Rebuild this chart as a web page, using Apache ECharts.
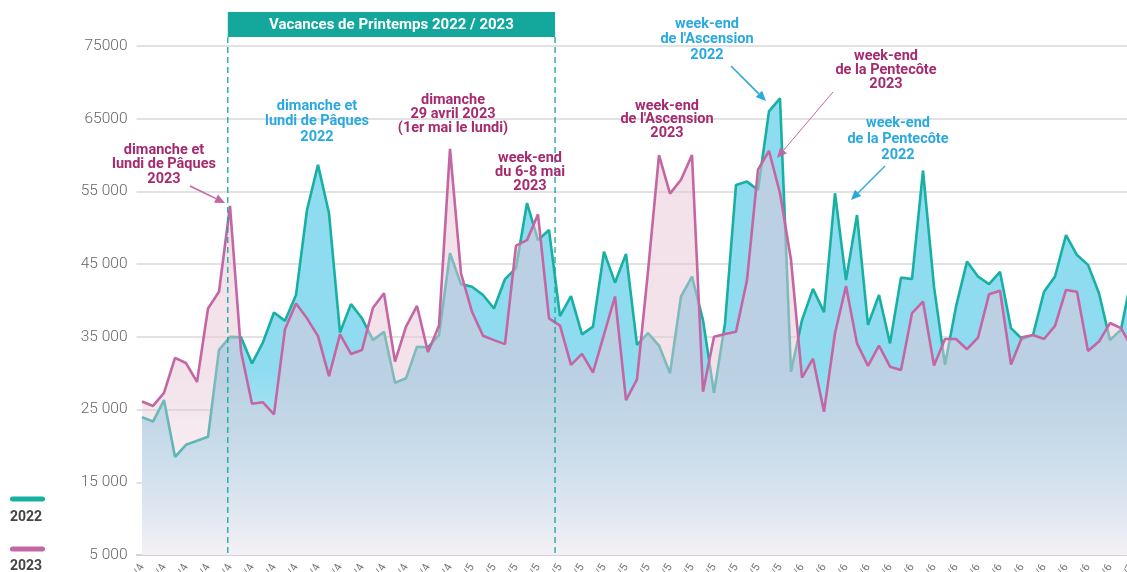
<!DOCTYPE html>
<html><head><meta charset="utf-8">
<script src="https://cdn.jsdelivr.net/npm/echarts@6/dist/echarts.min.js"></script>
<style>html,body{margin:0;padding:0;background:#fff}#c{width:1127px;height:572px}</style>
</head><body><div id="c"></div>
<script>
// ---- data ----
const categories = ['2/4','3/4','4/4','5/4','6/4','7/4','8/4','9/4','10/4','11/4','12/4','13/4','14/4','15/4','16/4','17/4','18/4','19/4','20/4','21/4','22/4','23/4','24/4','25/4','26/4','27/4','28/4','29/4','30/4',
'1/5','2/5','3/5','4/5','5/5','6/5','7/5','8/5','9/5','10/5','11/5','12/5','13/5','14/5','15/5','16/5','17/5','18/5','19/5','20/5','21/5','22/5','23/5','24/5','25/5','26/5','27/5','28/5','29/5','30/5','31/5',
'1/6','2/6','3/6','4/6','5/6','6/6','7/6','8/6','9/6','10/6','11/6','12/6','13/6','14/6','15/6','16/6','17/6','18/6','19/6','20/6','21/6','22/6','23/6','24/6','25/6','26/6','27/6','28/6','29/6','30/6','1/7'];

const values2022 = [23950,23350,26300,18500,20150,20700,21250,33200,35000,34950,
31350,34250,38350,37200,40750,52450,58650,52000,35600,39500,
37550,34550,35700,28700,29300,33650,33550,35250,46500,42250,
41900,40750,38900,42950,44450,53400,48300,49700,37850,40600,
35350,36400,46700,42450,46400,33900,35500,33800,30000,40550,
43300,37300,27300,36850,55900,56350,55200,66000,67800,30200,
37300,41600,38400,54750,42800,51750,36650,40750,34100,43150,
42950,57850,41900,31150,39150,45350,43300,42250,43950,36200,
34700,35250,41200,43300,49000,46250,44900,41000,34550,36000,
43500];

const values2023 = [26100,25500,27300,32100,31400,28800,38900,41200,53000,33000,
25800,26000,24350,36050,39600,37550,35100,29600,35350,32650,
33200,39000,41000,31600,36400,39250,32900,36550,60850,43750,
38450,35150,34550,34000,47550,48300,51850,37550,36550,31150,
32650,30100,35300,40550,26300,29150,44000,60000,54700,56600,
60000,27450,35000,35400,35700,42800,58000,60570,54750,45600,
29400,32000,24700,35500,42000,34100,31000,33800,30900,30450,
38250,39850,31050,34700,34700,33300,34900,40850,41350,31200,
34950,35250,34700,36500,41450,41200,33050,34350,36900,36200,
33500];

const yTickLabels = ['5 000','15 000','25 000','35 000','45 000','55 000','65000','75000'];
const seriesNames = ['2022','2023'];
const vacationBounds = [7.8, 37.55]; // category positions of the spring holiday limits
const vacationLabel = 'Vacances de Printemps 2022 / 2023';

// ---- styles ----
const TEAL = '#17b0a2', PINK = '#c466a3', MAG = '#a52a6e', BLUE = '#2aa9e0';
const chart = echarts.init(document.getElementById('c'), null, {renderer:'canvas'});
const G = echarts.graphic;

chart.setOption({
  animation:false,
  grid:{left:136.5, top:46, width:1001, bottom:17, containLabel:false, outerBoundsMode:'none'},
  xAxis:{type:'category', data:categories, boundaryGap:true,
    axisLine:{lineStyle:{color:'#cfcfcf', width:1.5}},
    axisTick:{interval:1, length:5, lineStyle:{color:'#cfcfcf'}},
    axisLabel:{interval:1, rotate:60, fontSize:11, color:'#777', margin:10, fontFamily:'Roboto'}
  },
  yAxis:{type:'value', min:5000, max:75000, interval:10000,
    axisLine:{show:false}, axisTick:{show:false},
    splitLine:{lineStyle:{color:'#d9d9d9', width:1.5}},
    axisLabel:{margin:9, fontSize:15.5, color:'#666', fontFamily:'Roboto', fontWeight:300,
      formatter:v=>yTickLabels[Math.round((v-5000)/10000)] ?? ''}
  },
  series:[
    {name:seriesNames[0], type:'line', data:values2022, symbol:'none', z:2,
      lineStyle:{color:TEAL, width:2.6},
      areaStyle:{opacity:1, color:new G.LinearGradient(0,0,0,1,[
        {offset:0,color:'rgb(143,220,240)'},{offset:0.6,color:'rgb(143,220,240)'},
        {offset:1,color:'rgb(246,246,250)'}])}
    },
    {name:seriesNames[1], type:'line', data:values2023, symbol:'none', z:3,
      lineStyle:{color:PINK, width:2.6},
      areaStyle:{opacity:1, color:new G.LinearGradient(0,0,0,1,[
        {offset:0,color:'rgba(231,197,213,0.5)'},{offset:0.55,color:'rgba(231,197,213,0.5)'},
        {offset:1,color:'rgba(231,197,213,0.1)'}])}
    }
  ]
});

// ---- annotations ----
function px(i){ const a=chart.convertToPixel({xAxisIndex:0},0), b=chart.convertToPixel({xAxisIndex:0},1); return a+(b-a)*i; }
const yBottom = chart.convertToPixel({yAxisIndex:0},5000);
const x1 = px(vacationBounds[0]), x2 = px(vacationBounds[1]);

function arrow(xa,ya,xb,yb,color,w){
  const ang=Math.atan2(yb-ya,xb-xa), L=10, W=4.5;
  const bx=xb-L*Math.cos(ang), by=yb-L*Math.sin(ang);
  return [
    {type:'line', z:100, shape:{x1:xa,y1:ya,x2:bx,y2:by}, style:{stroke:color, lineWidth:w}},
    {type:'polygon', z:100, shape:{points:[[xb,yb],[bx+W*Math.sin(ang),by-W*Math.cos(ang)],[bx-W*Math.sin(ang),by+W*Math.cos(ang)]]}, style:{fill:color}}
  ];
}
function label(txt,cx,cy,color,lh){
  return {type:'text', z:100, style:{text:txt, x:cx, y:cy-(lh||15)/2, fill:color, align:'center', verticalAlign:'top',
    font:'bold 14.5px Roboto', lineHeight:lh||15}};
}
const graphics = [
  {type:'line', z:100, shape:{x1:x1,y1:37,x2:x1,y2:yBottom}, style:{stroke:'#13a89b', lineWidth:1.3, lineDash:[6,4]}},
  {type:'line', z:100, shape:{x1:x2,y1:37,x2:x2,y2:yBottom}, style:{stroke:'#13a89b', lineWidth:1.3, lineDash:[6,4]}},
  {type:'rect', z:100, shape:{x:x1,y:12,width:x2-x1,height:25}, style:{fill:'#13a89b'}},
  {type:'text', z:101, style:{text:vacationLabel, x:(x1+x2)/2, y:25, fill:'#fff', align:'center', verticalAlign:'middle', font:'bold 15px Roboto'}},
  label('dimanche et\nlundi de Pâques\n2023',164,150,MAG,14.5),
  label('dimanche et\nlundi de Pâques\n2022',317,106,BLUE,15.5),
  label('dimanche\n29 avril 2023\n(1er mai le lundi)',453,100,MAG,14.2),
  label('week-end\ndu 6-8 mai\n2023',530,158,MAG,14.2),
  label('week-end\nde l\'Ascension\n2023',667,106,MAG,13.8),
  label('week-end\nde l\'Ascension\n2022',707,24,BLUE,15.5),
  label('week-end\nde la Pentecôte\n2023',886,56,MAG,14.2),
  label('week-end\nde la Pentecôte\n2022',898,123,BLUE,16),
  ...arrow(190,186,225,203,'#c466a3',1.6),
  ...arrow(731,66,766,101,BLUE,1.6),
  ...arrow(833,92,777,158,'#c466a3',1),
  ...arrow(885,166,851,200,BLUE,1.3),
  // legend
  {type:'rect', z:100, shape:{x:10,y:496.5,width:35,height:5,r:2.5}, style:{fill:TEAL}},
  {type:'text', z:100, style:{text:seriesNames[0], x:10, y:517, fill:'#444', align:'left', verticalAlign:'middle', font:'bold 14px Roboto'}},
  {type:'rect', z:100, shape:{x:10,y:546.5,width:35,height:5,r:2.5}, style:{fill:PINK}},
  {type:'text', z:100, style:{text:seriesNames[1], x:10, y:566, fill:'#444', align:'left', verticalAlign:'middle', font:'bold 14px Roboto'}}
];
chart.setOption({graphic:graphics});
</script></body></html>
